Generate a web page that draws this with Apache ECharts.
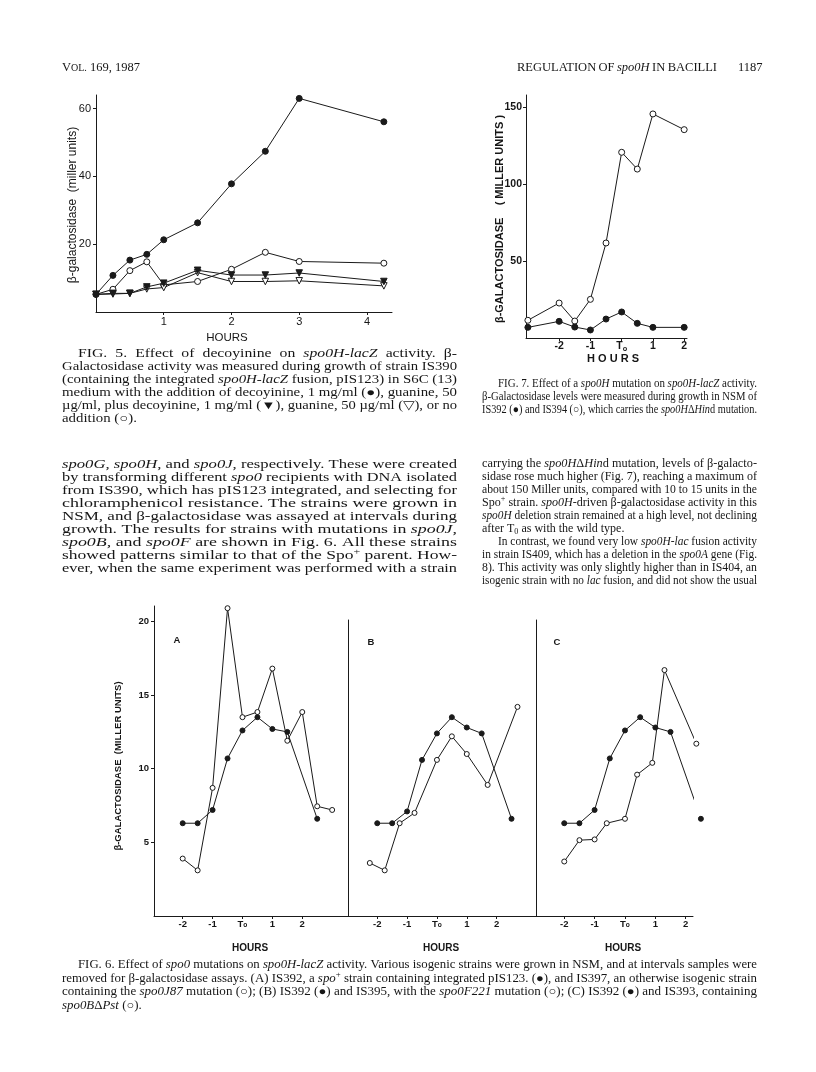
<!DOCTYPE html>
<html><head><meta charset="utf-8">
<script src="https://cdn.jsdelivr.net/npm/echarts@6/dist/echarts.min.js"></script>
<style>html,body{margin:0;padding:0;background:#fff}#c{width:816px;height:1072px}</style>
</head><body><div id="c"></div>
<script>
// ---------- DATA ----------
// Fig. 5 (hours after addition)
const fig5Hours = [0, 0.25, 0.5, 0.75, 1, 1.5, 2, 2.5, 3, 4.25];
const fig5Decoyinine = [5.2, 10.8, 15.3, 17.0, 21.3, 26.3, 37.8, 47.4, 63.0, 56.1];
const fig5GuanineDecoyinine = [5.2, 5.5, 5.5, 7.4, 8.5, 12.3, 10.9, 10.9, 11.5, 9.0];
const fig5Guanine = [5.2, 5.3, 5.5, 6.8, 7.2, 11.6, 9.0, 9.0, 9.2, 7.7];
const fig5NoAddition = [5.2, 6.7, 12.2, 14.8, 8.0, 9.0, 12.6, 17.6, 14.9, 14.4];
const fig5XTicks = [1, 2, 3, 4];
const fig5YTicks = [20, 40, 60];
// Fig. 7
const fig7Hours = [-3, -2, -1.5, -1, -0.5, 0, 0.5, 1, 2];
const fig7IS392 = [6.9, 10.8, 7.1, 5.2, 12.3, 16.9, 9.5, 6.9, 6.9];
const fig7IS394 = [11.5, 22.7, 11.0, 25.1, 61.7, 120.6, 109.7, 145.5, 135.3];
const fig7XTicks = [-2, -1, 0, 1, 2];
const fig7YTicks = [50, 100, 150];
// Fig. 6
const fig6XTicks = [-2, -1, 0, 1, 2];
const fig6YTicks = [5, 10, 15, 20];
const fig6AFilledHours = [-2, -1.5, -1, -0.5, 0, 0.5, 1, 1.5, 2.5];
const fig6AFilled = [6.3, 6.3, 7.2, 10.7, 12.6, 13.5, 12.7, 12.5, 6.6];
const fig6AOpenHours = [-2, -1.5, -1, -0.5, 0, 0.5, 1, 1.5, 2, 2.5, 3];
const fig6AOpen = [3.9, 3.1, 8.7, 20.9, 13.5, 13.85, 16.8, 11.9, 13.85, 7.45, 7.2];
const fig6BFilledHours = [-2, -1.5, -1, -0.5, 0, 0.5, 1, 1.5, 2.5];
const fig6BFilled = [6.3, 6.3, 7.1, 10.6, 12.4, 13.5, 12.8, 12.4, 6.6];
const fig6BOpenHours = [-2.25, -1.75, -1.25, -0.75, 0, 0.5, 1, 1.7, 2.7];
const fig6BOpen = [3.6, 3.1, 6.3, 7.0, 10.6, 12.2, 11.0, 8.9, 14.2];
const fig6CFilledHours = [-2, -1.5, -1, -0.5, 0, 0.5, 1, 1.5, 2.5];
const fig6CFilled = [6.3, 6.3, 7.2, 10.7, 12.6, 13.5, 12.8, 12.5, 6.6];
const fig6COpenHours = [-2, -1.5, -1, -0.6, 0, 0.4, 0.9, 1.3, 2.35];
const fig6COpen = [3.7, 5.15, 5.2, 6.3, 6.6, 9.6, 10.4, 16.7, 11.7];

// ---------- TEXT ----------
const SERIF = '"Liberation Serif","Times New Roman",serif';
const SANS = '"Liberation Sans",Arial,sans-serif';
const INK = '#161616';
const mctx = document.createElement('canvas').getContext('2d');
function fontStr(s, size){ return (s.i?'italic ':'') + size + 'px ' + SERIF; }
function parse(word, size){
  const segs=[]; let cur=''; const st={i:false,sup:false,sub:false,sc:false};
  const flush=()=>{ if(cur){ segs.push({t:cur,i:st.i,sup:st.sup,sub:st.sub,sc:st.sc}); cur=''; } };
  for (const ch of word){
    if (ch==='_'){flush(); st.i=!st.i;}
    else if (ch==='^'){flush(); st.sup=!st.sup;}
    else if (ch==='~'){flush(); st.sub=!st.sub;}
    else if (ch==='%'){flush(); st.sc=!st.sc;}
    else cur+=ch;
  }
  flush();
  segs.forEach(s=>{ s.size=(s.sup||s.sub)?size*0.68:(s.sc?size*0.8:size); mctx.font=fontStr(s,s.size); s.w=mctx.measureText(s.t).width; });
  return segs;
}
const gfx=[];
function measureLine(str, size){
  const words=str.split(' ').map(w=>parse(w,size));
  mctx.font=fontStr({},size); const sp=mctx.measureText(' ').width;
  const sum=words.reduce((a,ss)=>a+ss.reduce((b,s)=>b+s.w,0),0);
  return {words, sp, sum, n:words.length, natural: sum + sp*(words.length-1)};
}
function drawLine(o, x0, y, size, scale, gap){
  let x=x0;
  o.words.forEach(segs=>{
    segs.forEach(s=>{
      let dy=0; if(s.sup) dy=-size*0.33; else if(s.sub) dy=size*0.22; else if(s.sc) dy=size*0.05;
      gfx.push({type:'text', x:x, y:y+dy, scaleX:scale, silent:true,
        style:{text:s.t, font:fontStr(s,s.size), fill:INK, align:'left', verticalAlign:'middle', textAlign:'left', textVerticalAlign:'middle'}});
      x+=s.w*scale;
    });
    x+=gap;
  });
}
// paragraph: justified lines stretched horizontally (scan is wider than the font) + spaces fill the rest
function para(lines, x0, x1, y0, dy, size, indent, lastJustify){
  const L=lines.map(l=>measureLine(l,size));
  const ratios=L.map((o,k)=>(x1-x0-(k===0?indent:0))/o.natural);
  const full=ratios.filter((r,k)=>k<lines.length-1||lastJustify).slice().sort((a,b)=>a-b);
  const med=full.length?full[Math.floor(full.length/2)]:1;
  L.forEach((o,k)=>{
    const xs=x0+(k===0?indent:0), target=x1-xs;
    const isLast=k===lines.length-1;
    if (isLast && !lastJustify){ drawLine(o, xs, y0+dy*k, size, med, o.sp*med); return; }
    const s=Math.min(Math.max(ratios[k], med*0.9), med*1.06);
    const gap=o.n>1?(target-o.sum*s)/(o.n-1):0;
    drawLine(o, xs, y0+dy*k, size, s, gap);
  });
}
function plain(str, x0, y, size){ const o=measureLine(str,size); drawLine(o, x0, y, size, 1, o.sp); }
function spread(str, x0, x1, y, size){ const o=measureLine(str,size); drawLine(o, x0, y, size, 1, (x1-x0-o.sum)/(o.n-1)); }
function label(t, x, y, size, weight, rot, align){
  gfx.push({type:'text', x:x, y:y, rotation:rot||0, silent:true,
    style:{text:t, font:(weight||'normal')+' '+size+'px '+SANS, fill:INK, align:align||'center', verticalAlign:'middle', textAlign:align||'center', textVerticalAlign:'middle'}});
}

// header
plain('V%OL.% 169, 1987', 62, 68, 12.5);
spread('REGULATION OF _spo0H_ IN BACILLI', 517, 717, 68, 12.5);
plain('1187', 738, 68, 12.5);

// Fig 5 caption
para([
 'FIG. 5. Effect of decoyinine on _spo0H-lacZ_ activity. β-',
 'Galactosidase activity was measured during growth of strain IS390',
 '(containing the integrated _spo0H-lacZ_ fusion, pIS123) in S6C (13)',
 'medium with the addition of decoyinine, 1 mg/ml (●), guanine, 50',
 'µg/ml, plus decoyinine, 1 mg/ml (▼), guanine, 50 µg/ml (▽), or no',
 'addition (○).'
], 62, 457, 354, 12.9, 11.5, 16, false);

// left column body
para([
 '_spo0G_, _spo0H_, and _spo0J_, respectively. These were created',
 'by transforming different _spo0_ recipients with DNA isolated',
 'from IS390, which has pIS123 integrated, and selecting for',
 'chloramphenicol resistance. The strains were grown in',
 'NSM, and β-galactosidase was assayed at intervals during',
 'growth. The results for strains with mutations in _spo0J_,',
 '_spo0B_, and _spo0F_ are shown in Fig. 6. All these strains',
 'showed patterns similar to that of the Spo^+^ parent. How-',
 'ever, when the same experiment was performed with a strain'
], 62, 457, 465, 13, 12, 0, true);

// Fig 7 caption
para([
 'FIG. 7. Effect of a _spo0H_ mutation on _spo0H-lacZ_ activity.',
 'β-Galactosidase levels were measured during growth in NSM of',
 'IS392 (●) and IS394 (○), which carries the _spo0H_Δ_Hin_d mutation.'
], 482, 757, 384, 13, 11.5, 16, true);

// right column body
para([
 'carrying the _spo0H_Δ_Hin_d mutation, levels of β-galacto-',
 'sidase rose much higher (Fig. 7), reaching a maximum of',
 'about 150 Miller units, compared with 10 to 15 units in the',
 'Spo^+^ strain. _spo0H_-driven β-galactosidase activity in this',
 '_spo0H_ deletion strain remained at a high level, not declining',
 'after T~0~ as with the wild type.'
], 482, 757, 464, 13, 12, 0, false);
para([
 'In contrast, we found very low _spo0H-lac_ fusion activity',
 'in strain IS409, which has a deletion in the _spo0A_ gene (Fig.',
 '8). This activity was only slightly higher than in IS404, an',
 'isogenic strain with no _lac_ fusion, and did not show the usual'
], 482, 757, 542, 13, 12, 16, true);

// Fig 6 caption
para([
 'FIG. 6. Effect of _spo0_ mutations on _spo0H-lacZ_ activity. Various isogenic strains were grown in NSM, and at intervals samples were',
 'removed for β-galactosidase assays. (A) IS392, a _spo_^+^ strain containing integrated pIS123. (●), and IS397, an otherwise isogenic strain',
 'containing the _spo0J87_ mutation (○); (B) IS392 (●) and IS395, with the _spo0F221_ mutation (○); (C) IS392 (●) and IS393, containing',
 '_spo0B_Δ_Pst_ (○).'
], 62, 757, 965, 13.5, 11.5, 16, false);

// axis titles / panel labels
label('β-galactosidase  (miller units)', 73, 205, 12, 'normal', Math.PI/2);
label('HOURS', 227, 338, 11.5, 'normal');
label('β-GALACTOSIDASE    ( MILLER UNITS )', 500, 219, 11, 'bold', Math.PI/2);
label('H O U R S', 613, 359, 11, 'bold');
label('β-GALACTOSIDASE  (MILLER UNITS)', 118, 766, 9.5, 'bold', Math.PI/2);
label('HOURS', 250, 948, 10, 'bold');
label('HOURS', 441, 948, 10, 'bold');
label('HOURS', 623, 948, 10, 'bold');
label('A', 177, 640, 9.5, 'bold');
label('B', 371, 642, 9.5, 'bold');
label('C', 557, 642, 9.5, 'bold');

// ---------- CHART ----------
const hourFmt = v => v===0 ? '{t|T}{s|o}' : String(v);
const lineCol = '#1a1a1a';
function xAx(gi, min, max, ticks, fontSize, weight, margin, fmt){
  return {type:'value', gridIndex:gi, min:min, max:max,
    axisLine:{show:true, onZero:false, lineStyle:{color:lineCol, width:1}},
    splitLine:{show:false},
    axisTick:{show:true, inside:false, length:3, customValues:ticks, lineStyle:{color:lineCol}},
    axisLabel:{show:true, customValues:ticks, margin:margin, color:INK, fontFamily:SANS, fontSize:fontSize, fontWeight:weight,
      formatter:fmt || (v=>String(v)),
      rich:{t:{fontFamily:SANS, fontSize:fontSize, fontWeight:weight, color:INK}, s:{fontFamily:SANS, fontSize:fontSize*0.7, fontWeight:weight, color:INK, verticalAlign:'bottom', padding:[3,0,0,0]}}}};
}
function yAx(gi, max, ticks, fontSize, weight, margin){
  return {type:'value', gridIndex:gi, min:0, max:max,
    axisLine:{show:true, onZero:false, lineStyle:{color:lineCol, width:1}},
    splitLine:{show:false},
    axisTick:{show:ticks.length>0, inside:false, length:3, customValues:ticks, lineStyle:{color:lineCol}},
    axisLabel:{show:ticks.length>0, customValues:ticks, margin:margin, color:INK, fontFamily:SANS, fontSize:fontSize, fontWeight:weight}};
}
function ser(gi, xs, ys, symbol, filled, size, rot, z){
  return {type:'line', xAxisIndex:gi, yAxisIndex:gi, data:xs.map((x,i)=>[x,ys[i]]),
    symbol:symbol, symbolSize:size, symbolRotate:rot||0, showSymbol:true, clip:false, silent:true,
    lineStyle:{color:lineCol, width:1}, itemStyle:{color:filled?lineCol:'#fff', borderColor:lineCol, borderWidth:1},
    emphasis:{disabled:true}, z:z||2};
}

const option = {
  animation:false, backgroundColor:'#fff',
  grid:[
    {left:96, top:95, width:296, height:217},
    {left:526, top:95, width:161, height:243},
    {left:154, top:606, width:194, height:310},
    {left:348, top:620, width:188, height:296},
    {left:536, top:620, width:157, height:296}
  ],
  xAxis:[
    xAx(0, 0, 4.37, fig5XTicks, 11, 'normal', 4),
    xAx(1, -3.06, 2.09, fig7XTicks, 10.5, 'bold', 3, hourFmt),
    xAx(2, -2.96, 3.53, fig6XTicks, 9.5, 'bold', 3, hourFmt),
    xAx(3, -2.98, 3.32, fig6XTicks, 9.5, 'bold', 3, hourFmt),
    xAx(4, -2.93, 2.24, fig6XTicks, 9.5, 'bold', 3, hourFmt)
  ],
  yAxis:[
    yAx(0, 64, fig5YTicks, 11, 'normal', 5),
    yAx(1, 157.8, fig7YTicks, 10.5, 'bold', 4),
    yAx(2, 21.05, fig6YTicks, 9.5, 'bold', 5),
    yAx(3, 20.1, [], 9.5, 'bold', 5),
    yAx(4, 20.1, [], 9.5, 'bold', 5)
  ],
  series:[
    ser(0, fig5Hours, fig5NoAddition, 'circle', false, 6, 0, 2),
    ser(0, fig5Hours, fig5Guanine, 'triangle', false, 6.5, 180, 3),
    ser(0, fig5Hours, fig5GuanineDecoyinine, 'triangle', true, 6.5, 180, 4),
    ser(0, fig5Hours, fig5Decoyinine, 'circle', true, 6, 0, 5),
    ser(1, fig7Hours, fig7IS394, 'circle', false, 6, 0, 2),
    ser(1, fig7Hours, fig7IS392, 'circle', true, 6, 0, 3),
    ser(2, fig6AOpenHours, fig6AOpen, 'circle', false, 5, 0, 2),
    ser(2, fig6AFilledHours, fig6AFilled, 'circle', true, 5, 0, 3),
    ser(3, fig6BOpenHours, fig6BOpen, 'circle', false, 5, 0, 2),
    ser(3, fig6BFilledHours, fig6BFilled, 'circle', true, 5, 0, 3),
    ser(4, fig6COpenHours, fig6COpen, 'circle', false, 5, 0, 2),
    ser(4, fig6CFilledHours, fig6CFilled, 'circle', true, 5, 0, 3)
  ],
  graphic:{elements:gfx}
};
const chart = echarts.init(document.getElementById('c'), null, {renderer:'canvas', width:816, height:1072});
chart.setOption(option);
</script></body></html>
